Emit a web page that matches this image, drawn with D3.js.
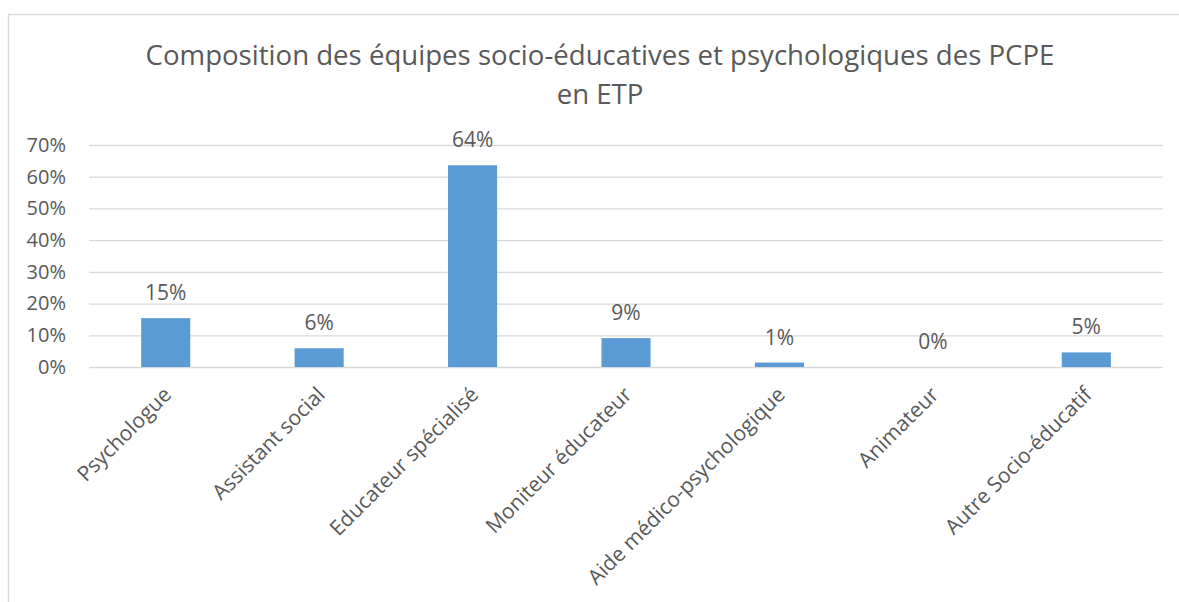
<!DOCTYPE html>
<html>
<head>
<meta charset="utf-8">
<script src="https://cdn.jsdelivr.net/npm/d3@7"></script>
<style>
  body { margin: 0; background: #fff; }
  svg text { font-family: "Open Sans", sans-serif; fill: #595959; }
</style>
</head>
<body>
<div id="chart"></div>
<script>
// data
const categories = ["Psychologue", "Assistant social", "Educateur spécialisé", "Moniteur éducateur",
  "Aide médico-psychologique", "Animateur", "Autre Socio-éducatif"];
const shares = [0.154, 0.059, 0.636, 0.091, 0.014, 0, 0.046];
const yTicks = [0, 0.1, 0.2, 0.3, 0.4, 0.5, 0.6, 0.7];
const titleLines = ["Composition des équipes socio-éducatives et psychologiques des PCPE", "en ETP"];

const W = 1179, H = 602;
const plot = { left: 89, right: 1163, top: 145, bottom: 367 };

const svg = d3.select("#chart")
  .append("svg")
  .attr("width", W)
  .attr("height", H);

// chart border (only top and left visible in the frame)
svg.append("path")
  .attr("d", `M8.5,${H} V14.5 H${W}`)
  .attr("fill", "none")
  .attr("stroke", "#d9d9d9")
  .attr("stroke-width", 1.5);

// title
svg.append("g")
  .selectAll("text")
  .data(titleLines)
  .join("text")
  .attr("x", 600)
  .attr("y", (d, i) => 65 + i * 39)
  .attr("text-anchor", "middle")
  .style("font-size", "27.6px")
  .text(d => d);

/////////////////////
// scales
/////////////////////
const x = d3.scaleBand()
  .domain(categories)
  .range([plot.left, plot.right])
  .paddingInner(0.68)
  .paddingOuter(0.34);

const y = d3.scaleLinear()
  .domain([0, 0.7])
  .range([plot.bottom, plot.top]);

// grid lines + y labels
svg.append("g")
  .attr("transform", `translate(${plot.left},0)`)
  .call(d3.axisLeft(y).tickValues(yTicks).tickFormat(d3.format(".0%"))
    .tickSize(-(plot.right - plot.left)).tickPadding(23))
  .call(g => g.select(".domain").remove())
  .call(g => g.selectAll(".tick line").attr("stroke", "#d9d9d9").attr("stroke-width", 1.3))
  .call(g => g.selectAll(".tick text").style("font-size", "20px").attr("fill", "#595959"));

// bars
svg.append("g")
  .selectAll("rect")
  .data(shares)
  .join("rect")
  .attr("x", (d, i) => x(categories[i]))
  .attr("y", d => y(d))
  .attr("width", x.bandwidth())
  .attr("height", d => y(0) - y(d))
  .attr("fill", "#5b9bd5");

// value labels
svg.append("g")
  .selectAll("text")
  .data(shares)
  .join("text")
  .attr("x", (d, i) => x(categories[i]) + x.bandwidth() / 2)
  .attr("y", d => y(d) - 18)
  .attr("text-anchor", "middle")
  .style("font-size", "21px")
  .text(d => d3.format(".0%")(d));

// category labels, rotated
svg.append("g")
  .selectAll("text")
  .data(categories)
  .join("text")
  .attr("text-anchor", "end")
  .attr("transform", d => `translate(${x(d) + x.bandwidth() / 2 + 7},${plot.bottom + 29}) rotate(-45)`)
  .style("font-size", "21px")
  .text(d => d);
</script>
</body>
</html>
